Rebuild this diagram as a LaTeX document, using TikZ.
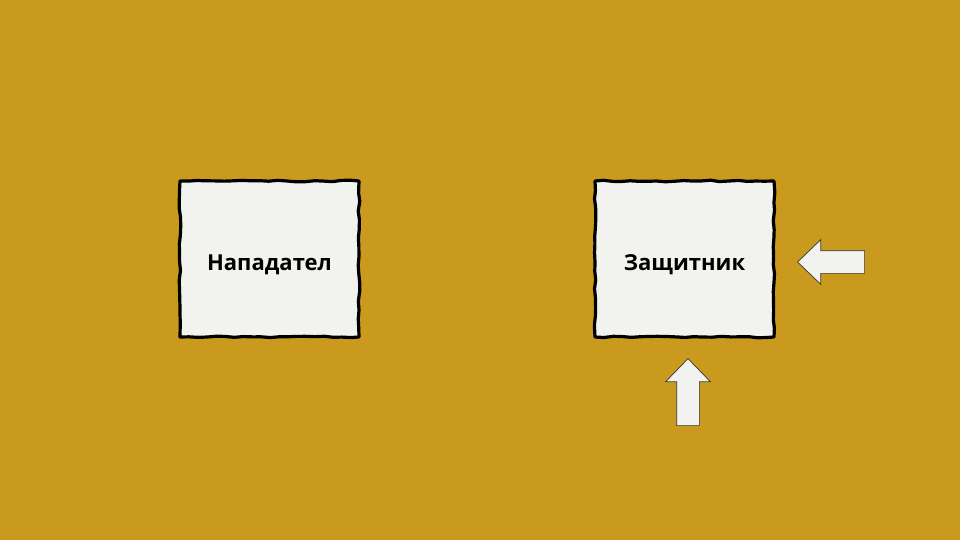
\documentclass[tikz,border=0pt]{standalone}
\usepackage{fontspec}
\setmainfont{Open Sans}
\usepackage{xcolor}
\usetikzlibrary{positioning, calc, shapes.arrows, decorations.pathmorphing}

\definecolor{mustard}{HTML}{CA9A1E}
\definecolor{paper}{HTML}{F2F2EE}

\tikzset{
	roughbox/.style={draw=black, fill=paper, line width=3.2pt, line join=round,
		minimum width=179pt, minimum height=156pt,
		text height=22pt, text depth=0pt,
		decorate, decoration={random steps, segment length=9pt, amplitude=0.8pt},
		font=\bfseries\fontsize{22}{25}\selectfont},
	pusharrow/.style={shape=single arrow, draw=black!80, fill=paper, line width=0.7pt,
		inner sep=11pt, single arrow head extend=11pt, single arrow tip angle=88,
		minimum height=67pt}
}

\begin{document}
\begin{tikzpicture}[x=1pt, y=-1pt]
			\pgfmathsetseed{7}
			
			% ---------- Background ----------
			\fill[mustard] (0,0) rectangle (960,540);
			\useasboundingbox (0,0) rectangle (960,540);
			
			% ---------- Boxes ----------
			\node[roughbox] (attacker) at (269.5,259) {Нападател};
			\node[roughbox, right=232.8pt of attacker] (defender) {Защитник};
			
			% ---------- Pushing arrows ----------
			\node[pusharrow, shape border rotate=180, anchor=tip] (pushR)
				at ([xshift=21.5pt,yshift=-3pt]defender.east) {};
			\node[pusharrow, shape border rotate=90, anchor=tip] (pushB)
				at ([xshift=3.5pt,yshift=-19.5pt]defender.south) {};
			
		\end{tikzpicture}
\end{document}
